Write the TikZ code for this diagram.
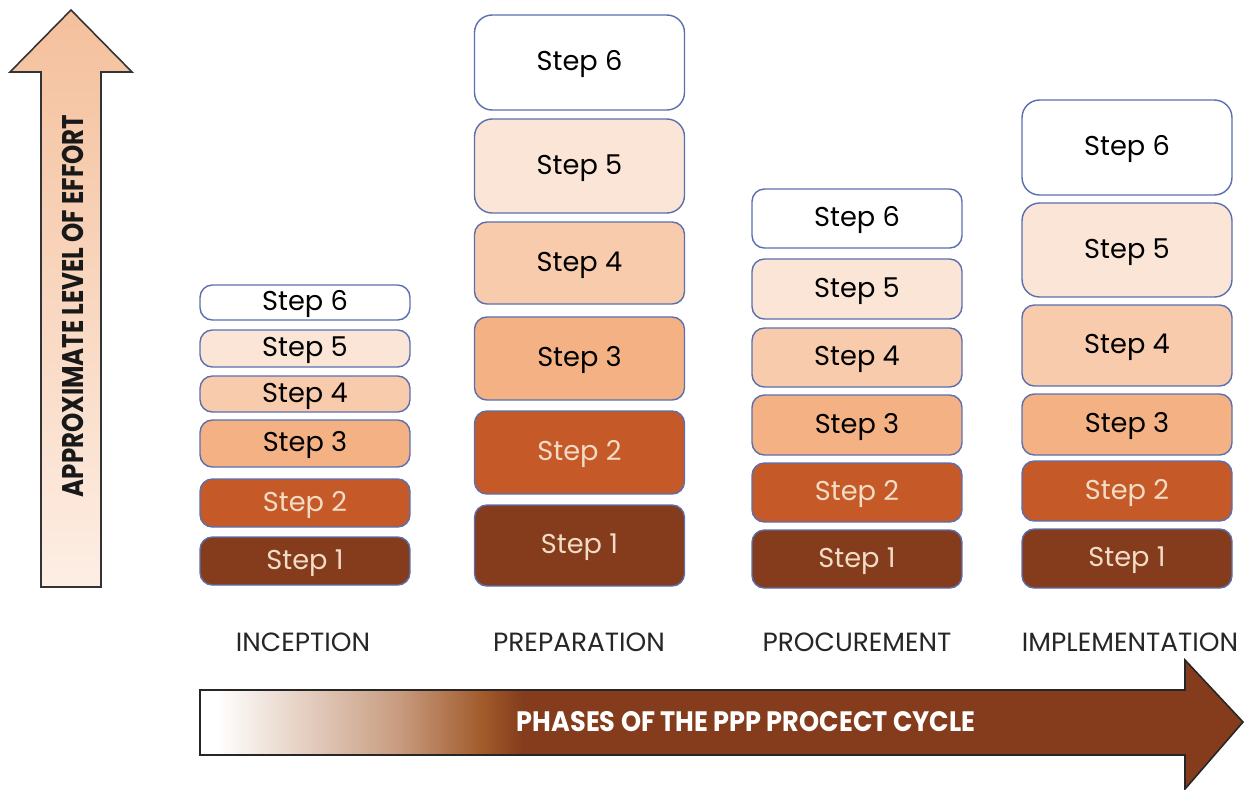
\documentclass[tikz,border=0pt]{standalone}
\usepackage{fontspec}
\setmainfont{Poppins}
\definecolor{stepline}{HTML}{5B6FAE}
\definecolor{stepone}{HTML}{843C1C}
\definecolor{steptwo}{HTML}{C55A28}
\definecolor{stepthree}{HTML}{F4B183}
\definecolor{stepfour}{HTML}{F8CBAD}
\definecolor{stepfive}{HTML}{FBE5D6}
\definecolor{darktext}{HTML}{F3DCC6}
\definecolor{efforttop}{HTML}{F4C09C}
\definecolor{effortbot}{HTML}{FDEEE4}
\definecolor{phasemid}{HTML}{C89C80}
\definecolor{phaseorange}{HTML}{A05A2A}
\pgfdeclarehorizontalshading{phaseshade}{100bp}{color(0bp)=(white); color(25.8bp)=(white); color(34.5bp)=(phasemid); color(38.6bp)=(phaseorange); color(40.5bp)=(stepone); color(100bp)=(stepone)}
\tikzset{
  stepbox/.style={draw=stepline, line width=0.8pt, rounded corners=7pt, minimum width=4.2cm, inner sep=0pt,
    text height=1.22em, text depth=0.3em, font=\fontsize{15.5}{18}\selectfont},
  darkstep/.style={stepbox, text=darktext},
  phaselabel/.style={font=\fontsize{15}{18}\selectfont, text=black!85}
}
\begin{document}
\begin{tikzpicture}[x=0.02cm, y=-0.02cm]
        \useasboundingbox (0,0) rectangle (1246,789);

        % effort arrow
        \shade[top color=efforttop, bottom color=effortbot, draw=black!80, line width=0.9pt]
          (41,587) -- (41,72) -- (10,72) -- (71,10) -- (132,72) -- (101,72) -- (101,587) -- cycle;
        \node (effort) [rotate=90, text=black!90] at (73,306)
          {\fontsize{17}{19}\selectfont\bfseries\scalebox{0.82}[1]{APPROXIMATE LEVEL OF EFFORT}};

        % phase arrow
        \shade[shading=phaseshade, draw=black!85, line width=0.9pt]
          (200,690) -- (1185,690) -- (1185,660) -- (1243,722) -- (1185,789) -- (1185,755) -- (200,755) -- cycle;
        \node (phases) [text=white] at (746,722)
          {\fontsize{16}{18}\selectfont\bfseries\scalebox{0.91}[1]{PHASES OF THE PPP PROCECT CYCLE}};

        % inception
        \node (i1) [darkstep, fill=stepone, minimum height=0.96cm] at (305,561) {Step 1};
        \node (i2) [darkstep, fill=steptwo, minimum height=0.96cm] at (305,503) {Step 2};
        \node (i3) [stepbox, fill=stepthree, minimum height=0.94cm] at (305,443.5) {Step 3};
        \node (i4) [stepbox, fill=stepfour, minimum height=0.72cm] at (305,394) {Step 4};
        \node (i5) [stepbox, fill=stepfive, minimum height=0.74cm] at (305,348.5) {Step 5};
        \node (i6) [stepbox, fill=white, minimum height=0.70cm] at (305,302.5) {Step 6};

        % preparation
        \node (p1) [darkstep, fill=stepone, minimum height=1.62cm] at (579.5,545.5) {Step 1};
        \node (p2) [darkstep, fill=steptwo, minimum height=1.66cm] at (579.5,452.5) {Step 2};
        \node (p3) [stepbox, fill=stepthree, minimum height=1.66cm] at (579.5,358.5) {Step 3};
        \node (p4) [stepbox, fill=stepfour, minimum height=1.64cm] at (579.5,263) {Step 4};
        \node (p5) [stepbox, fill=stepfive, minimum height=1.88cm, rounded corners=10pt] at (579.5,166) {Step 5};
        \node (p6) [stepbox, fill=white, minimum height=1.90cm, rounded corners=10pt] at (579.5,62.5) {Step 6};

        % procurement
        \node (c1) [darkstep, fill=stepone, minimum height=1.16cm] at (857,559) {Step 1};
        \node (c2) [darkstep, fill=steptwo, minimum height=1.18cm] at (857,492.5) {Step 2};
        \node (c3) [stepbox, fill=stepthree, minimum height=1.20cm] at (857,425) {Step 3};
        \node (c4) [stepbox, fill=stepfour, minimum height=1.18cm] at (857,357.5) {Step 4};
        \node (c5) [stepbox, fill=stepfive, minimum height=1.20cm] at (857,289) {Step 5};
        \node (c6) [stepbox, fill=white, minimum height=1.18cm] at (857,218.5) {Step 6};

        % implementation
        \node (m1) [darkstep, fill=stepone, minimum height=1.18cm] at (1127,558.5) {Step 1};
        \node (m2) [darkstep, fill=steptwo, minimum height=1.20cm] at (1127,491) {Step 2};
        \node (m3) [stepbox, fill=stepthree, minimum height=1.22cm] at (1127,424.5) {Step 3};
        \node (m4) [stepbox, fill=stepfour, minimum height=1.62cm] at (1127,345.5) {Step 4};
        \node (m5) [stepbox, fill=stepfive, minimum height=1.88cm, rounded corners=10pt] at (1127,250) {Step 5};
        \node (m6) [stepbox, fill=white, minimum height=1.90cm, rounded corners=10pt] at (1127,147.5) {Step 6};

        % phase names
        \node (inception) [phaselabel] at (303,642) {INCEPTION};
        \node (preparation) [phaselabel] at (579,642) {PREPARATION};
        \node (procurement) [phaselabel] at (857,642) {PROCUREMENT};
        \node (implementation) [phaselabel] at (1130,642) {IMPLEMENTATION};
      \end{tikzpicture}
\end{document}
